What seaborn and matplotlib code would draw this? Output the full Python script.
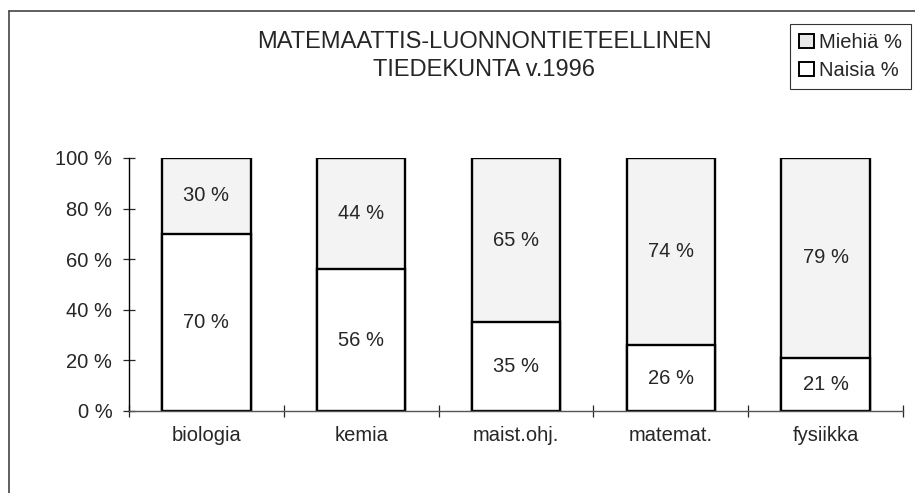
import matplotlib
matplotlib.use("Agg")
import matplotlib.pyplot as plt
import seaborn as sns
import pandas as pd
from matplotlib.lines import Line2D
from matplotlib.patches import Patch

categories = ["biologia", "kemia", "maist.ohj.", "matemat.", "fysiikka"]
naisia = [70, 56, 35, 26, 21]
miehia = [30, 44, 65, 74, 79]
yticks = [0, 20, 40, 60, 80, 100]
title = "MATEMAATTIS-LUONNONTIETEELLINEN\nTIEDEKUNTA v.1996"
legend_labels = ["Miehiä %", "Naisia %"]

sns.set_style("white")
plt.rcParams["font.family"] = ["Liberation Sans", "DejaVu Sans"]
FS = 14.5

df = pd.DataFrame({"kat": categories, "Naisia": naisia, "Miehia": miehia})
df["total"] = df["Naisia"] + df["Miehia"]

fig = plt.figure(figsize=(9.15, 4.93), dpi=100)
ax = fig.add_axes([129/915, 1-411/493, (903-129)/915, (411-158)/493])

gray = "#f3f3f3"
sns.barplot(data=df, x="kat", y="total", ax=ax, color=gray, width=0.57,
            edgecolor="black", linewidth=1.7, saturation=1)
sns.barplot(data=df, x="kat", y="Naisia", ax=ax, color="white", width=0.57,
            edgecolor="black", linewidth=1.7, saturation=1)

top_bars = ax.patches[:5]
for p, n, m in zip(top_bars, naisia, miehia):
    x = p.get_x() + p.get_width()/2
    ax.text(x, n + m/2, f"{m} %", ha="center", va="center", fontsize=FS)
ax.bar_label(ax.containers[1], labels=[f"{v} %" for v in naisia],
             label_type="center", fontsize=FS)

ax.set_ylim(0, 100)
ax.set_xlim(-0.5, 4.5)
ax.set_yticks(yticks)
ax.set_yticklabels([f"{v} %" for v in yticks], fontsize=FS)
ax.set_xlabel("")
ax.set_ylabel("")
ax.tick_params(axis="y", direction="inout", length=8, width=0.9, pad=8, left=True)
ax.tick_params(axis="x", which="major", length=0, pad=11, labelsize=FS)
ax.set_xticks([i - 0.5 for i in range(6)], minor=True)
ax.tick_params(axis="x", which="minor", direction="inout", length=8, width=0.9, bottom=True)
for s in ["top", "right"]:
    ax.spines[s].set_visible(False)
ax.spines["left"].set_color("black")
ax.spines["left"].set_linewidth(1.0)
ax.spines["bottom"].set_color("#555555")
ax.spines["bottom"].set_linewidth(1.0)

fig.text(484/915, 1-56/493, title, ha="center", va="center",
         fontsize=17, linespacing=1.4)

handles = [Patch(facecolor="#e8e8e8", edgecolor="black", linewidth=1.4),
           Patch(facecolor="white", edgecolor="black", linewidth=1.4)]
leg = fig.legend(handles, legend_labels, loc="upper right",
                 bbox_to_anchor=(911/915, 1-24/493), fontsize=FS,
                 frameon=True, fancybox=False, handlelength=0.75,
                 handleheight=0.75, handletextpad=0.25, borderpad=0.45,
                 labelspacing=0.45, borderaxespad=0)
leg.get_frame().set_edgecolor("black")
leg.get_frame().set_linewidth(0.8)

fig.add_artist(Line2D([9/915, 1], [1-11/493, 1-11/493], color="#444444", lw=1.2,
                      transform=fig.transFigure))
fig.add_artist(Line2D([9/915, 9/915], [0, 1-11/493], color="#444444", lw=1.2,
                      transform=fig.transFigure))

fig.savefig("out.png", dpi=100)
